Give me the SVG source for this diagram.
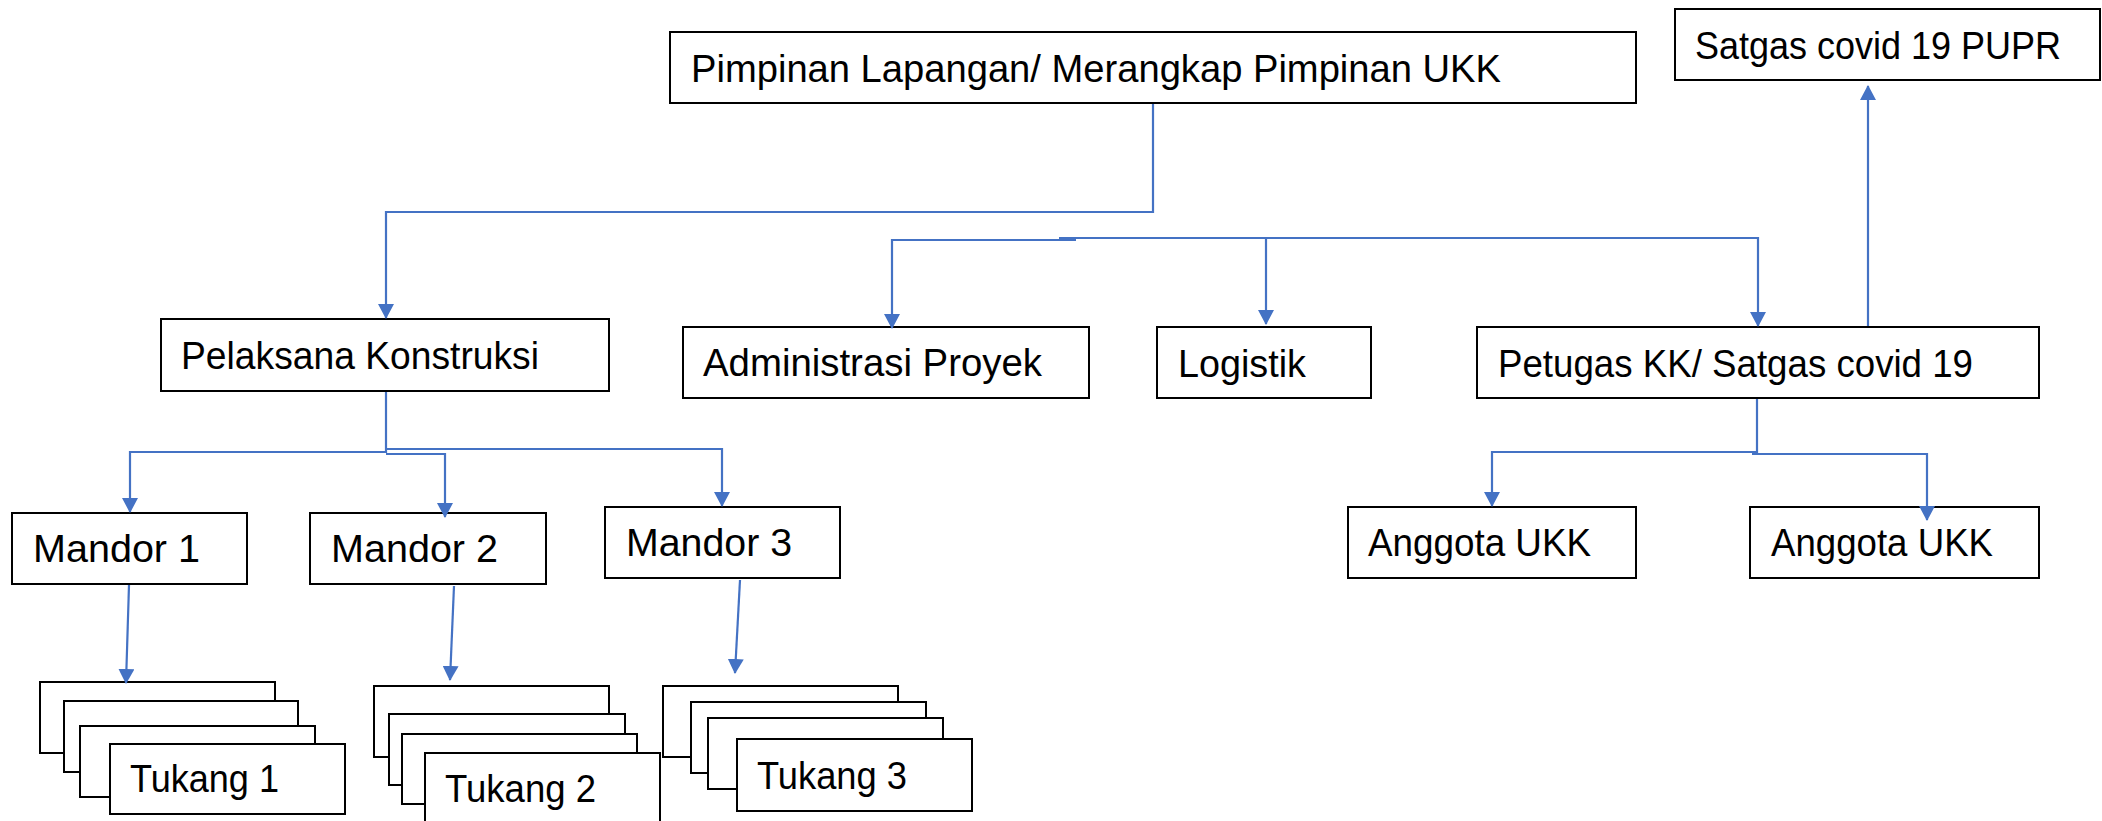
<svg xmlns="http://www.w3.org/2000/svg" width="2102" height="821" viewBox="0 0 2102 821">
<style>
.box{fill:#ffffff;stroke:#000000;stroke-width:2}
.lbl{font-family:"Liberation Sans",Arial,sans-serif;font-size:38px;fill:#000000}
.con{fill:none;stroke:#4472C4;stroke-width:2.2}
</style>
<defs>
<marker id="ah" markerUnits="userSpaceOnUse" markerWidth="15" markerHeight="16" refX="14" refY="8" orient="auto">
<path d="M0,0 L15,8 L0,16 z" fill="#4472C4"/>
</marker>
</defs>
<rect x="0" y="0" width="2102" height="821" fill="#ffffff"/>
<g id="pimpinan">
<rect class="box" x="670" y="32" width="966" height="71"/>
<text class="lbl" x="691" y="82" textLength="810" lengthAdjust="spacingAndGlyphs">Pimpinan Lapangan/ Merangkap Pimpinan UKK</text>
</g>
<g id="satgas-pupr">
<rect class="box" x="1675" y="9" width="425" height="71"/>
<text class="lbl" x="1695" y="59" textLength="366" lengthAdjust="spacingAndGlyphs">Satgas covid 19 PUPR</text>
</g>
<g id="pelaksana">
<rect class="box" x="161" y="319" width="448" height="72"/>
<text class="lbl" x="181" y="369" textLength="358" lengthAdjust="spacingAndGlyphs">Pelaksana Konstruksi</text>
</g>
<g id="administrasi">
<rect class="box" x="683" y="327" width="406" height="71"/>
<text class="lbl" x="703" y="376" textLength="339" lengthAdjust="spacingAndGlyphs">Administrasi Proyek</text>
</g>
<g id="logistik">
<rect class="box" x="1157" y="327" width="214" height="71"/>
<text class="lbl" x="1178" y="377" textLength="128" lengthAdjust="spacingAndGlyphs">Logistik</text>
</g>
<g id="petugas">
<rect class="box" x="1477" y="327" width="562" height="71"/>
<text class="lbl" x="1498" y="377" textLength="475" lengthAdjust="spacingAndGlyphs">Petugas KK/ Satgas covid 19</text>
</g>
<g id="mandor1">
<rect class="box" x="12" y="513" width="235" height="71"/>
<text class="lbl" x="33" y="562" textLength="167" lengthAdjust="spacingAndGlyphs">Mandor 1</text>
</g>
<g id="mandor2">
<rect class="box" x="310" y="513" width="236" height="71"/>
<text class="lbl" x="331" y="562" textLength="167" lengthAdjust="spacingAndGlyphs">Mandor 2</text>
</g>
<g id="mandor3">
<rect class="box" x="605" y="507" width="235" height="71"/>
<text class="lbl" x="626" y="556" textLength="166" lengthAdjust="spacingAndGlyphs">Mandor 3</text>
</g>
<g id="anggota1">
<rect class="box" x="1348" y="507" width="288" height="71"/>
<text class="lbl" x="1368" y="556" textLength="223" lengthAdjust="spacingAndGlyphs">Anggota UKK</text>
</g>
<g id="anggota2">
<rect class="box" x="1750" y="507" width="289" height="71"/>
<text class="lbl" x="1771" y="556" textLength="222" lengthAdjust="spacingAndGlyphs">Anggota UKK</text>
</g>
<g id="tukang1">
<rect class="box" x="40" y="682" width="235" height="71"/>
<rect class="box" x="64" y="701" width="234" height="71"/>
<rect class="box" x="80" y="726" width="235" height="71"/>
<rect class="box" x="110" y="744" width="235" height="70"/>
<text class="lbl" x="130" y="792" textLength="149" lengthAdjust="spacingAndGlyphs">Tukang 1</text>
</g>
<g id="tukang2">
<rect class="box" x="374" y="686" width="235" height="71"/>
<rect class="box" x="389" y="714" width="236" height="71"/>
<rect class="box" x="402" y="734" width="235" height="70"/>
<rect class="box" x="425" y="753" width="235" height="71"/>
<text class="lbl" x="445" y="802" textLength="151" lengthAdjust="spacingAndGlyphs">Tukang 2</text>
</g>
<g id="tukang3">
<rect class="box" x="663" y="686" width="235" height="71"/>
<rect class="box" x="691" y="702" width="235" height="71"/>
<rect class="box" x="708" y="718" width="235" height="71"/>
<rect class="box" x="737" y="739" width="235" height="72"/>
<text class="lbl" x="757" y="789" textLength="150" lengthAdjust="spacingAndGlyphs">Tukang 3</text>
</g>
<g id="connectors">
<path class="con" d="M1153,104 V212 H386 V318" marker-end="url(#ah)"/>
<path class="con" d="M1059,238 H1758 V326" marker-end="url(#ah)"/>
<path class="con" d="M1076,240 H892 V328" marker-end="url(#ah)"/>
<path class="con" d="M1266,238 V324" marker-end="url(#ah)"/>
<path class="con" d="M1868,326 V86" marker-end="url(#ah)"/>
<path class="con" d="M386,392 V452 H130 V512" marker-end="url(#ah)"/>
<path class="con" d="M386,454 H445 V517" marker-end="url(#ah)"/>
<path class="con" d="M386,449 H722 V506" marker-end="url(#ah)"/>
<path class="con" d="M129,585 L126,683" marker-end="url(#ah)"/>
<path class="con" d="M454,586 L450,680" marker-end="url(#ah)"/>
<path class="con" d="M740,580 L735,673" marker-end="url(#ah)"/>
<path class="con" d="M1757,399 V452 H1492 V506" marker-end="url(#ah)"/>
<path class="con" d="M1752,454 H1927 V520" marker-end="url(#ah)"/>
</g>
</svg>
